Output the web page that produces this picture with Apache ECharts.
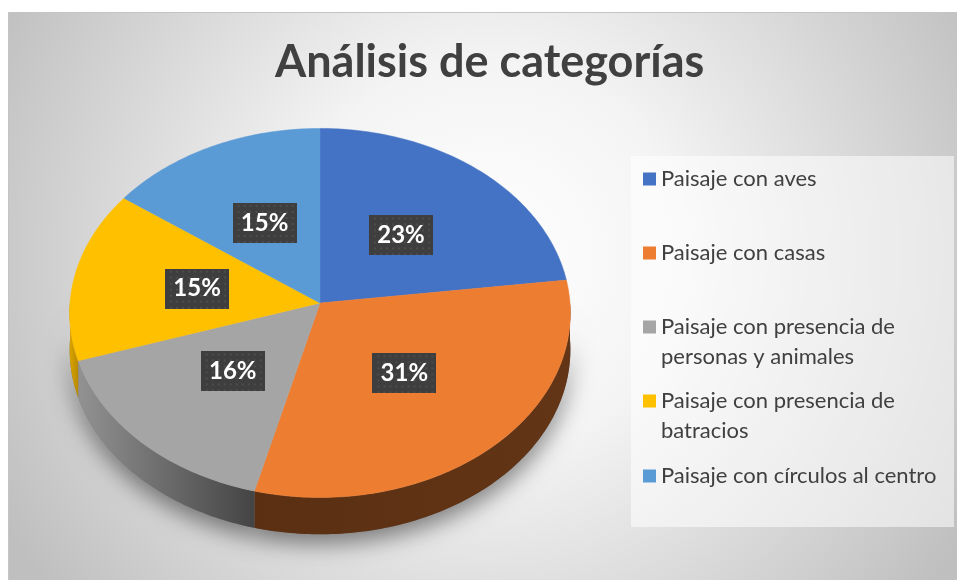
<!DOCTYPE html>
<html>
<head>
<meta charset="utf-8">
<script src="https://cdn.jsdelivr.net/npm/echarts@6/dist/echarts.min.js"></script>
<style>
  html, body { margin: 0; background: #fff; }
  #chart { width: 957px; height: 580px; }
</style>
</head>
<body>
<div id="chart"></div>
<script>
///////////////////////////////////////////////////
// Data
///////////////////////////////////////////////////
var categories = [
  'Paisaje con aves',
  'Paisaje con casas',
  'Paisaje con presencia de personas y animales',
  'Paisaje con presencia de batracios',
  'Paisaje con círculos al centro'
];
var values = [23, 31, 16, 15, 15];

// Office palette, top faces and side walls
var colors = ['#4472C4', '#ED7D31', '#A5A5A5', '#FFC000', '#5B9BD5'];
var sideColors = [
  ['#2f528f', '#2f528f'],
  ['#5a2f12', '#633516'],
  ['#929292', '#444444'],
  ['#d9a300', '#b98a00'],
  ['#3f6f99', '#3f6f99']
];

///////////////////////////////////////////////////
// Slices built from the values
///////////////////////////////////////////////////
var total = values.reduce(function (a, b) { return a + b; }, 0);
var acc = 0;
var slices = values.map(function (v) {
  var s = acc;
  acc += v;
  return [s, acc, v];
});

var P = 0.054;      // light perspective: far edge a bit smaller
var DEPTH = 0.2;    // thickness of the pie, in y axis units
var LABEL_R = 0.5;

function proj(r, t) {
  var u = r * Math.sin(t), v = r * Math.cos(t), d = 1 + P * v;
  return [u / d, v / d];
}
function arc(t0, t1, dy) {
  var n = Math.max(2, Math.ceil((t1 - t0) / (Math.PI / 180)));
  var out = [];
  for (var k = 0; k <= n; k++) {
    var p = proj(1, t0 + (t1 - t0) * k / n);
    out.push([p[0], p[1] - dy]);
  }
  return out;
}

// dark dotted fill of the data labels
var labelBg = document.createElement('canvas');
labelBg.width = 64; labelBg.height = 40;
(function () {
  var ctx = labelBg.getContext('2d');
  ctx.fillStyle = '#3e3e3e';
  ctx.fillRect(0, 0, 64, 40);
  ctx.fillStyle = '#4d4d4d';
  for (var y = 2; y < 40; y += 6) {
    for (var x = (y / 6) % 2 ? 5 : 2; x < 64; x += 6) ctx.fillRect(x, y, 2, 2);
  }
})();

function renderSlice(params, api) {
  var i = params.seriesIndex;
  var t0 = api.value(0) / total * 2 * Math.PI;
  var t1 = api.value(1) / total * 2 * Math.PI;
  var toPx = function (p) { return api.coord(p); };
  var children = [];

  var s0 = Math.max(t0, Math.PI / 2), s1 = Math.min(t1, 1.5 * Math.PI);
  if (s1 > s0) {
    var sidePts = arc(s0, s1, 0).concat(arc(s0, s1, DEPTH).reverse()).map(toPx);
    children.push({
      type: 'polygon', z2: -5,
      shape: { points: sidePts },
      style: { fill: '#777', shadowBlur: 22, shadowOffsetY: 10, shadowColor: 'rgba(0,0,0,0.45)' }
    });
    children.push({
      type: 'polygon', z2: 0,
      shape: { points: sidePts },
      style: {
        fill: {
          type: 'linear', x: 0, y: 0, x2: 1, y2: 0,
          colorStops: [{ offset: 0, color: sideColors[i][0] }, { offset: 1, color: sideColors[i][1] }]
        }
      }
    });
  }

  var topPts = [[0, 0]].concat(arc(t0, t1, 0)).map(toPx);
  children.push({
    type: 'polygon', z2: 10,
    shape: { points: topPts },
    style: { fill: colors[i], stroke: colors[i], lineWidth: 0.5 }
  });

  var c = api.coord(proj(LABEL_R, (t0 + t1) / 2));
  children.push({
    type: 'text', z2: 20, x: c[0], y: c[1],
    style: {
      text: Math.round(api.value(2) / total * 100) + '%',
      fill: '#ffffff',
      font: 'bold 24px Lato',
      align: 'center', verticalAlign: 'middle',
      width: 46, height: 22, lineHeight: 22,
      padding: [9, 9],
      backgroundColor: { image: labelBg },
      shadowBlur: 6, shadowOffsetX: 3, shadowOffsetY: 3,
      shadowColor: 'rgba(0,0,0,0.45)'
    }
  });
  return { type: 'group', children: children };
}

///////////////////////////////////////////////////
// Legend placement (one legend per entry)
///////////////////////////////////////////////////
var legendTops = [164, 238, 282, 356, 461];
function wrapName(name) {
  var w = name.replace(' presencia de ', ' presencia de\n');
  // leading empty line keeps the marker on the first text line
  return w === name ? name : '\n' + w;
}

var option = {
  animation: false,
  title: {
    text: 'Análisis de categorías',
    left: 270, top: 35,
    textStyle: { fontFamily: 'Lato', fontWeight: 'bold', fontSize: 45, color: '#404040' }
  },
  graphic: [
    {
      type: 'rect', z: -10,
      shape: { x: 8.5, y: 12.5, width: 960, height: 580 },
      style: {
        fill: {
          type: 'radial', x: 0.5, y: 0.42, r: 0.95,
          colorStops: [
            { offset: 0, color: '#ffffff' },
            { offset: 0.35, color: '#f4f4f4' },
            { offset: 1, color: '#bfbfbf' }
          ]
        },
        stroke: '#c4c4c4', lineWidth: 1
      }
    },
    {
      type: 'rect', z: -5,
      shape: { x: 631, y: 156, width: 323, height: 371 },
      style: { fill: 'rgba(255,255,255,0.55)' }
    }
  ],
  legend: categories.map(function (name, i) {
    return {
      data: [name],
      left: 643, top: legendTops[i],
      orient: 'vertical', padding: 0, itemGap: 0,
      itemWidth: 13, itemHeight: 13, icon: 'rect',
      selectedMode: false,
      formatter: wrapName,
      textStyle: { fontFamily: 'Lato', fontSize: 22, color: '#404040', lineHeight: 30 }
    };
  }),
  grid: { left: 70, top: 119, width: 500, height: 414 },
  xAxis: { type: 'value', min: -1, max: 1, show: false },
  yAxis: { type: 'value', min: -1.25, max: 1, show: false },
  series: categories.map(function (name, i) {
    return {
      name: name,
      type: 'custom',
      clip: false,
      itemStyle: { color: colors[i] },
      renderItem: renderSlice,
      data: [slices[i]]
    };
  })
};

var myChart = echarts.init(document.getElementById('chart'), null, { renderer: 'canvas' });
myChart.setOption(option);
</script>
</body>
</html>
